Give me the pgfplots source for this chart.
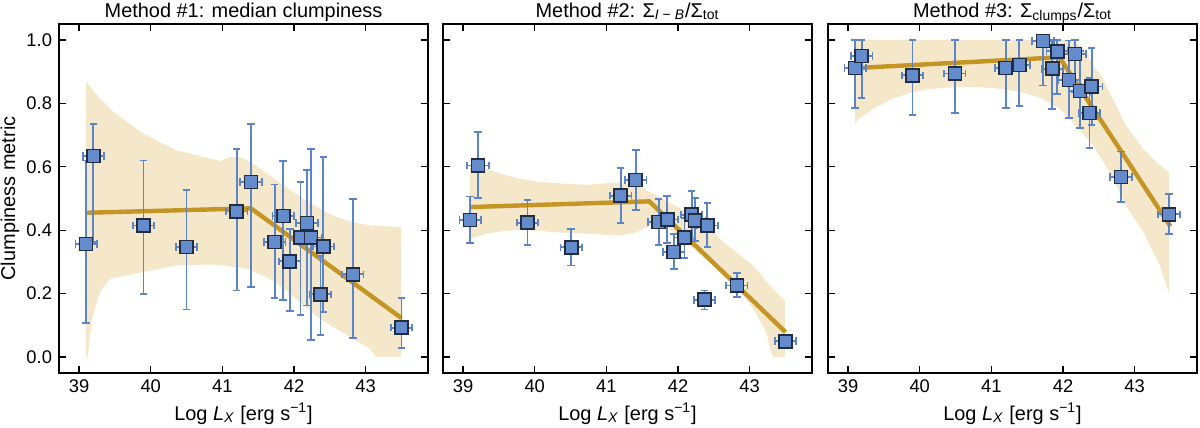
\documentclass[border=0pt]{standalone}
\usepackage{fontspec}
\setmainfont{Liberation Sans}
\usepackage{pgfplots}
\pgfplotsset{compat=1.18}
\usepackage{pgfplotstable}

\definecolor{bandc}{RGB}{245,232,202}
\definecolor{fitc}{RGB}{196,148,36}
\definecolor{errc}{RGB}{92,132,200}
\definecolor{mfill}{RGB}{100,140,205}
\definecolor{medge}{RGB}{35,45,65}

\pgfplotstableread{
x y ep em
39.10 0.357 0.263 0.249
39.20 0.634 0.102 0.271
39.90 0.415 0.205 0.217
40.50 0.347 0.179 0.197
41.20 0.459 0.198 0.249
41.40 0.552 0.182 0.331
41.73 0.363 0.181 0.176
41.85 0.445 0.173 0.266
41.94 0.302 0.103 0.157
42.09 0.377 0.175 0.245
42.18 0.422 0.168 0.259
42.24 0.377 0.280 0.322
42.41 0.349 0.281 0.207
42.37 0.198 0.120 0.128
42.82 0.261 0.238 0.200
43.50 0.093 0.094 0.064
}\tabA

\pgfplotstableread{
x y ep em
39.10 0.433 0.073 0.073
39.21 0.604 0.105 0.103
39.90 0.424 0.072 0.070
40.51 0.346 0.058 0.057
41.20 0.509 0.086 0.087
41.41 0.559 0.095 0.095
41.73 0.426 0.073 0.072
41.85 0.434 0.073 0.075
41.94 0.331 0.057 0.053
42.09 0.377 0.062 0.064
42.19 0.449 0.075 0.080
42.24 0.430 0.071 0.063
42.41 0.415 0.071 0.069
42.37 0.181 0.029 0.031
42.82 0.226 0.038 0.037
43.50 0.050 0.010 0.010
}\tabB

\pgfplotstableread{
x y ep em
39.10 0.911 0.089 0.126
39.19 0.949 0.051 0.133
39.90 0.888 0.112 0.124
40.49 0.894 0.106 0.124
41.20 0.911 0.089 0.126
41.39 0.921 0.079 0.130
41.72 0.996 0.004 0.140
41.85 0.909 0.091 0.126
41.92 0.964 0.036 0.134
42.08 0.874 0.124 0.121
42.17 0.956 0.044 0.120
42.24 0.839 0.127 0.117
42.40 0.853 0.121 0.121
42.37 0.769 0.110 0.109
42.81 0.567 0.081 0.079
43.48 0.450 0.065 0.062
}\tabC

\pgfplotsset{
  every axis title shift=0pt,
  panel/.style={
    scale only axis, width=184.5bp, height=174.5bp,
    xmin=38.72, xmax=43.87, ymin=-0.05, ymax=1.05,
    xtick={39,40,41,42,43}, ytick={0,0.2,0.4,0.6,0.8,1.0},
    tick align=inside, xtick pos=both, ytick pos=both,
    major tick length=3.5bp,
    axis line style={line width=0.8bp},
    every tick/.style={line width=0.7bp, black},
    /pgf/number format/assume math mode=true,
    tick label style={font=\fontsize{9.2}{11}\selectfont},
    yticklabel style={/pgf/number format/fixed, /pgf/number format/fixed zerofill, /pgf/number format/precision=1},
    xlabel={Log \textit{L}\textsubscript{\textit{X}} [erg s\textsuperscript{−1}]},
    label style={font=\fontsize{10}{12}\selectfont},
    xlabel style={at={(axis description cs:0.5,0)}, anchor=base, yshift=-23.5bp, inner sep=0pt},
    title style={at={(axis description cs:0.5,1)}, anchor=base, yshift=3.5bp, inner sep=0pt, font=\fontsize{10}{12}\selectfont},
  },
  fitline/.style={fitc, line width=2.2bp},
  bandfill/.style={draw=none, fill=bandc},
  pts/.style={only marks, mark=square*, mark size=3.25bp,
    mark options={fill=mfill, draw=medge, line width=0.75bp},
    error bars/.cd, x dir=both, x fixed=0.15, y dir=both, y explicit,
    error bar style={errc, line width=0.9bp},
    error mark options={rotate=90, errc, mark size=1.9bp, line width=0.9bp}},
}

\begin{document}
\begin{tikzpicture}
\useasboundingbox (-29.5bp,-27.5bp) rectangle (570.5bp,186.5bp);

\begin{axis}[panel, at={(0bp,0bp)}, anchor=south west,
  title={Method \#1: median clumpiness},
  ylabel={Clumpiness metric},
  ylabel style={at={(axis description cs:-0.1328,0.5)}, anchor=center, inner sep=0pt}]
\addplot[bandfill] coordinates {
(39.10,0.868) (39.29,0.815) (39.48,0.773) (39.90,0.704) (40.36,0.652) (40.83,0.626)
(40.97,0.618) (41.10,0.630) (41.24,0.631) (41.43,0.610) (41.66,0.573) (41.89,0.536)
(42.13,0.499) (42.36,0.468) (42.59,0.442) (42.82,0.426) (43.06,0.415) (43.50,0.410)
(43.50,0.000) (43.15,0.000) (43.06,0.026) (42.82,0.058) (42.59,0.089) (42.36,0.121)
(42.13,0.163) (41.89,0.210) (41.66,0.247) (41.34,0.279) (40.97,0.290) (40.83,0.292)
(40.36,0.289) (39.90,0.268) (39.43,0.247) (39.29,0.205) (39.18,0.120) (39.12,0.000)
(39.10,0.000)} --cycle;
\addplot[fitline] coordinates {(39.1,0.455) (41.4,0.469) (43.5,0.123)};
\addplot[pts] table[x=x, y=y, y error plus=ep, y error minus=em] {\tabA};
\end{axis}

\begin{axis}[panel, at={(192bp,0bp)}, anchor=south west, yticklabels={},
  title={Method \#2: Σ\textsubscript{\textit{I} − \textit{B}}/Σ\textsubscript{tot}}]
\addplot[bandfill] coordinates {
(39.10,0.604) (39.33,0.593) (39.56,0.576) (39.79,0.562) (40.02,0.554) (40.26,0.549)
(40.49,0.546) (40.72,0.543) (40.91,0.546) (41.05,0.549) (41.19,0.551) (41.42,0.541)
(41.65,0.515) (41.88,0.488) (42.12,0.457) (42.35,0.431) (42.58,0.373) (42.81,0.331)
(43.05,0.289) (43.28,0.226) (43.49,0.179)
(43.49,0.000) (43.33,0.000) (43.30,0.016) (43.23,0.079) (43.05,0.152) (42.81,0.226)
(42.58,0.273) (42.35,0.315) (42.12,0.362) (41.88,0.404) (41.65,0.420) (41.42,0.394)
(41.19,0.383) (40.95,0.386) (40.72,0.389) (40.49,0.391) (40.26,0.394) (40.02,0.399)
(39.79,0.401) (39.56,0.397) (39.33,0.389) (39.10,0.373)} --cycle;
\addplot[fitline] coordinates {(39.1,0.473) (41.6,0.491) (43.5,0.079)};
\addplot[pts] table[x=x, y=y, y error plus=ep, y error minus=em] {\tabB};
\end{axis}

\begin{axis}[panel, at={(384.5bp,0bp)}, anchor=south west, yticklabels={},
  title={Method \#3: Σ\textsubscript{clumps}/Σ\textsubscript{tot}}]
\addplot[bandfill] coordinates {
(39.10,0.995) (39.25,1.000) (42.00,1.000) (42.18,0.993) (42.32,0.961) (42.42,0.919)
(42.56,0.877) (42.65,0.835) (42.88,0.730) (43.12,0.657) (43.30,0.614) (43.48,0.583)
(43.48,0.200) (43.35,0.289) (43.12,0.394) (42.88,0.478) (42.65,0.583) (42.42,0.667)
(42.18,0.730) (41.95,0.783) (41.72,0.814) (41.48,0.832) (41.25,0.842) (41.02,0.848)
(40.79,0.851) (40.55,0.851) (40.32,0.849) (40.09,0.843) (39.85,0.832) (39.62,0.814)
(39.39,0.788) (39.15,0.751) (39.10,0.735)} --cycle;
\addplot[fitline] coordinates {(39.1,0.911) (41.95,0.945) (43.5,0.412)};
\addplot[pts] table[x=x, y=y, y error plus=ep, y error minus=em] {\tabC};
\end{axis}
\end{tikzpicture}
\end{document}
